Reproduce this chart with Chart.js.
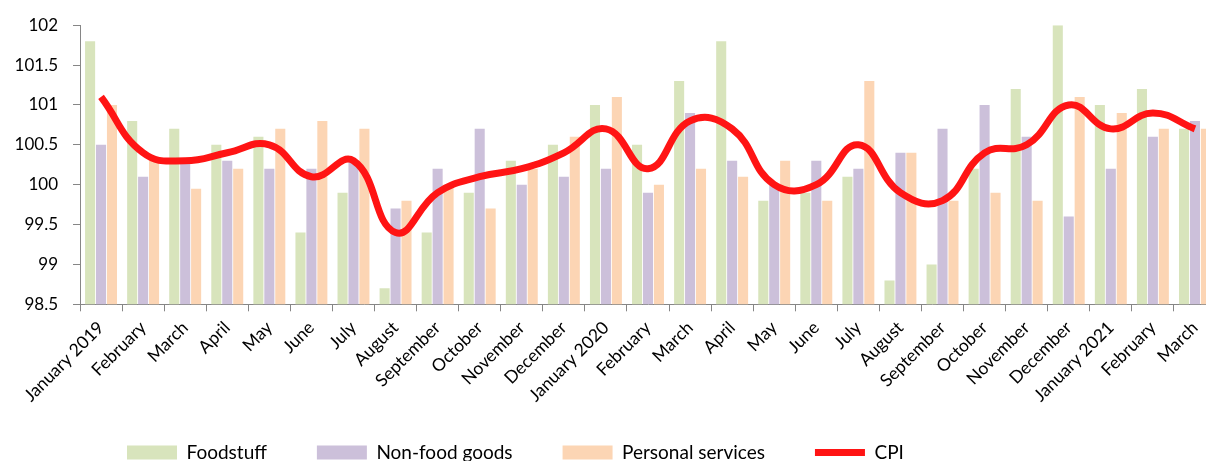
<!DOCTYPE html>
<html>
<head>
<meta charset="utf-8">
<script src="https://cdn.jsdelivr.net/npm/chart.js@4/dist/chart.umd.min.js"></script>
<style>
    html, body { margin: 0; padding: 0; background: #fff; overflow: hidden; }
    #wrap { position: relative; width: 1218px; height: 491px; }
</style>
</head>
<body>
<div id="wrap"><canvas id="chart"></canvas></div>
<script>
// ================================
//   DATOS
// ================================
const months = [
    "January 2019", "February", "March", "April", "May", "June", "July", "August",
    "September", "October", "November", "December", "January 2020", "February", "March",
    "April", "May", "June", "July", "August", "September", "October", "November",
    "December", "January 2021", "February", "March"
];

const foodstuff = [101.8, 100.8, 100.7, 100.5, 100.6, 99.4, 99.9, 98.7, 99.4, 99.9, 100.3, 100.5, 101.0, 100.5,
    101.3, 101.8, 99.8, 99.9, 100.1, 98.8, 99.0, 100.2, 101.2, 102.0, 101.0, 101.2, 100.7];
const nonFood = [100.5, 100.1, 100.3, 100.3, 100.2, 100.2, 100.3, 99.7, 100.2, 100.7, 100.0, 100.1, 100.2, 99.9,
    100.9, 100.3, 100.0, 100.3, 100.2, 100.4, 100.7, 101.0, 100.6, 99.6, 100.2, 100.6, 100.8];
const services = [101.0, 100.3, 99.95, 100.2, 100.7, 100.8, 100.7, 99.8, 100.0, 99.7, 100.2, 100.6, 101.1, 100.0,
    100.2, 100.1, 100.3, 99.8, 101.3, 100.4, 99.8, 99.9, 99.8, 101.1, 100.9, 100.7, 100.7];
const cpi = [101.1, 100.4, 100.3, 100.4, 100.5, 100.1, 100.3, 99.4, 99.9, 100.1, 100.2, 100.4, 100.7, 100.2,
    100.8, 100.7, 100.0, 100.0, 100.5, 99.9, 99.8, 100.4, 100.5, 101.0, 100.7, 100.9, 100.7];

const yMin = 98.5;
const yMax = 102;
const yStep = 0.5;

// legend: starts left of center and sits closer to the axis labels, like the original
const legendShift = {
    id: "legendShift",
    afterLayout(chart) {
        const lg = chart.legend;
        lg.left = 127 - lg.options.labels.padding;
        lg.top -= 19;
        lg.bottom -= 19;
    }
};

const ctx = document.getElementById("chart").getContext("2d");

new Chart(ctx, {
    type: "bar",
    data: {
        labels: months,
        datasets: [
            {
                label: "Foodstuff",
                data: foodstuff,
                backgroundColor: "#d8e4bc",
                pointStyle: "rect",
                order: 2
            },
            {
                label: "Non-food goods",
                data: nonFood,
                backgroundColor: "#ccc0da",
                pointStyle: "rect",
                order: 2
            },
            {
                label: "Personal services",
                data: services,
                backgroundColor: "#fcd5b4",
                pointStyle: "rect",
                order: 2
            },
            {
                type: "line",
                label: "CPI",
                data: cpi,
                borderColor: "#ff1414",
                backgroundColor: "#ff1414",
                borderWidth: 7,
                pointRadius: 0,
                pointStyle: "line",
                tension: 0.45,
                order: 1
            }
        ]
    },
    options: {
        responsive: true,
        maintainAspectRatio: false,
        animation: false,
        datasets: {
            bar: { barPercentage: 0.92, categoryPercentage: 0.78 }
        },
        layout: { padding: { top: 19, right: 2, left: 0, bottom: 0 } },
        plugins: {
            legend: {
                position: "bottom",
                align: "start",
                labels: {
                    usePointStyle: true,
                    pointStyleWidth: 50,
                    boxHeight: 14,
                    padding: 50,
                    color: "#000",
                    font: { family: "Lato", size: 19 },
                    sort: (a, b) => a.datasetIndex - b.datasetIndex
                }
            },
            tooltip: { enabled: false }
        },
        scales: {
            x: {
                grid: { drawOnChartArea: false, tickLength: 7, color: "#868686" },
                border: { color: "#868686" },
                ticks: {
                    autoSkip: false,
                    maxRotation: 45,
                    minRotation: 45,
                    padding: 6,
                    color: "#000",
                    font: { family: "Lato", size: 17.5 }
                }
            },
            y: {
                min: yMin,
                max: yMax,
                afterFit(axis) { axis.width = 80; },
                grid: { drawOnChartArea: false, tickLength: 7, color: "#868686" },
                border: { color: "#868686" },
                ticks: {
                    stepSize: yStep,
                    padding: 15,
                    color: "#000",
                    font: { family: "Lato", size: 17 },
                    callback: (v) => String(Math.round(v * 10) / 10)
                }
            }
        }
    },
    plugins: [legendShift]
});
</script>
</body>
</html>
